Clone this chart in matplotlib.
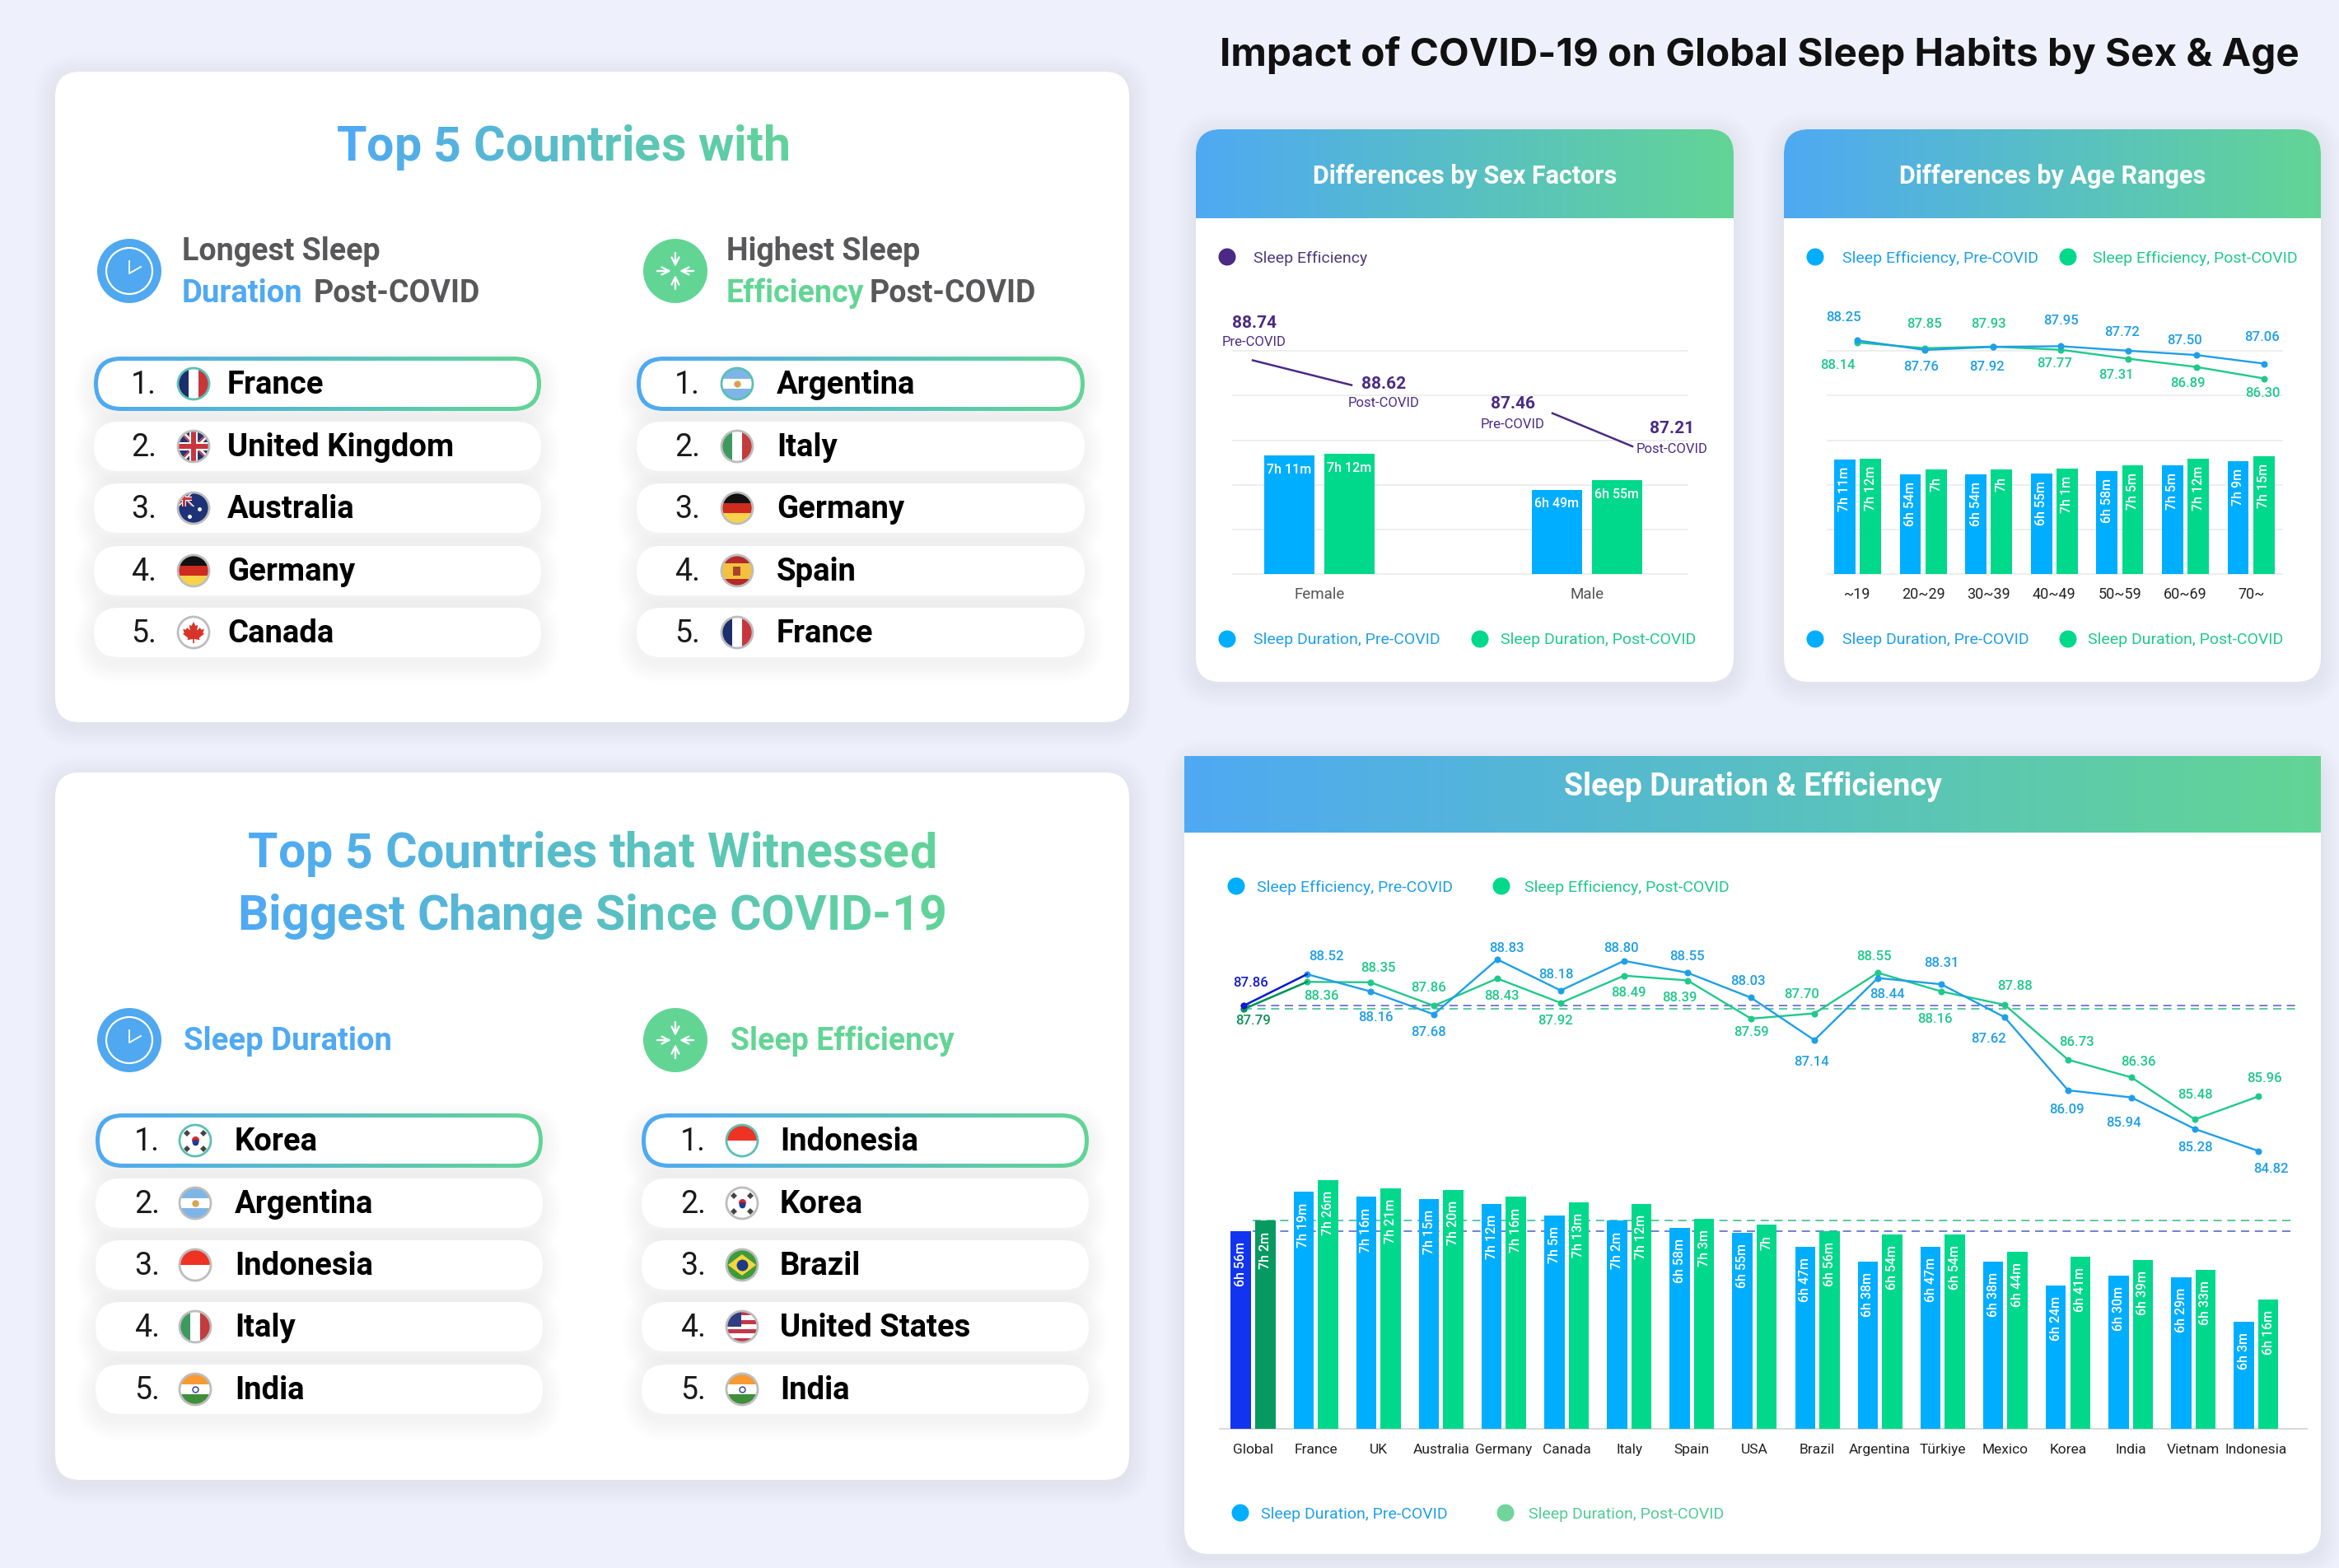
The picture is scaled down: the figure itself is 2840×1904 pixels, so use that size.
import matplotlib
matplotlib.use("Agg")
import matplotlib.pyplot as plt
import numpy as np
from matplotlib.colors import LinearSegmentedColormap, to_rgb
from matplotlib.patches import Circle, FancyBboxPatch, Polygon, Rectangle

# ---- data ----
countries = ["Global", "France", "UK", "Australia", "Germany", "Canada", "Italy", "Spain", "USA",
             "Brazil", "Argentina", "Türkiye", "Mexico", "Korea", "India", "Vietnam", "Indonesia"]
eff_pre = [87.86, 88.52, 88.16, 87.68, 88.83, 88.18, 88.80, 88.55, 88.03,
           87.14, 88.44, 88.31, 87.62, 86.09, 85.94, 85.28, 84.82]
eff_post = [87.79, 88.36, 88.35, 87.86, 88.43, 87.92, 88.49, 88.39, 87.59,
            87.70, 88.55, 88.16, 87.88, 86.73, 86.36, 85.48, 85.96]
dur_pre = ["6h 56m", "7h 19m", "7h 16m", "7h 15m", "7h 12m", "7h 5m", "7h 2m", "6h 58m", "6h 55m",
           "6h 47m", "6h 38m", "6h 47m", "6h 38m", "6h 24m", "6h 30m", "6h 29m", "6h 3m"]
dur_post = ["7h 2m", "7h 26m", "7h 21m", "7h 20m", "7h 16m", "7h 13m", "7h 12m", "7h 3m", "7h",
            "6h 56m", "6h 54m", "6h 54m", "6h 44m", "6h 41m", "6h 39m", "6h 33m", "6h 16m"]

sexes = ["Female", "Male"]
sex_dur_pre = ["7h 11m", "6h 49m"]
sex_dur_post = ["7h 12m", "6h 55m"]
female_eff = [88.74, 88.62]
male_eff = [87.46, 87.21]

ages = ["~19", "20~29", "30~39", "40~49", "50~59", "60~69", "70~"]
age_eff_pre = [88.25, 87.76, 87.92, 87.95, 87.72, 87.50, 87.06]
age_eff_post = [88.14, 87.85, 87.93, 87.77, 87.31, 86.89, 86.30]
age_dur_pre = ["7h 11m", "6h 54m", "6h 54m", "6h 55m", "6h 58m", "7h 5m", "7h 9m"]
age_dur_post = ["7h 12m", "7h", "7h", "7h 1m", "7h 5m", "7h 12m", "7h 15m"]

top_duration = ["France", "United Kingdom", "Australia", "Germany", "Canada"]
top_efficiency = ["Argentina", "Italy", "Germany", "Spain", "France"]
change_duration = ["Korea", "Argentina", "Indonesia", "Italy", "India"]
change_efficiency = ["Indonesia", "Korea", "Brazil", "United States", "India"]

# where the value labels sit in the picture (px)
pre_label_xy = [(1519, 1193), (1610, 1162), (1670, 1236), (1734, 1254), (1829, 1151), (1889, 1183),
                (1968, 1151), (2048, 1162), (2122, 1192), (2199, 1290), (2291, 1207), (2357, 1169),
                (2415, 1261), (2509, 1348), (2578, 1363), (2665, 1394), (2757, 1419)]
post_label_xy = [(1522, 1240), (1604, 1209), (1673, 1175), (1735, 1199), (1823, 1209), (1889, 1240),
                 (1977, 1206), (2039, 1211), (2127, 1254), (2188, 1207), (2275, 1162), (2349, 1237),
                 (2446, 1198), (2521, 1266), (2596, 1289), (2665, 1329), (2749, 1310)]
age_pre_label_xy = [(2238, 386), (2333, 445), (2412, 445), (2502, 389), (2577, 404), (2652, 413), (2746, 410)]
age_post_label_xy = [(2231, 443), (2336, 393), (2414, 393), (2495, 442), (2569, 456), (2656, 465), (2747, 478)]

W, H = 2840, 1904
BG = "#EEF1FC"
BLUE_BAR = "#00AEFF"
GREEN_BAR = "#00D88C"
BLUE_LINE = "#1E9FE8"
GREEN_LINE = "#1FC98A"
GRAD_A = "#4FA9F3"
GRAD_B = "#62D595"
PURPLE = "#4B2A85"
GREY_HEAD = "#58585A"
SANS = "Roboto"

plt.rcParams["font.family"] = [SANS, "DejaVu Sans"]
grad_cmap = LinearSegmentedColormap.from_list("grad", [GRAD_A, GRAD_B])

fig = plt.figure(figsize=(W / 100, H / 100), dpi=100, facecolor=BG)
rend = fig.canvas.get_renderer()


def px_axes(x0, y0, x1, y1, z=2):
    a = fig.add_axes([x0 / W, 1 - y1 / H, (x1 - x0) / W, (y1 - y0) / H], zorder=z)
    a.patch.set_alpha(0)
    return a


bg = px_axes(0, 0, W, H, z=0)
bg.set_xlim(0, W)
bg.set_ylim(H, 0)
bg.axis("off")
ov = px_axes(0, 0, W, H, z=5)
ov.set_xlim(0, W)
ov.set_ylim(H, 0)
ov.axis("off")


def to_min(s):
    h, _, m = s.partition("h")
    m = m.strip().rstrip("m")
    return int(h) * 60 + (int(m) if m else 0)


def rbox(x0, y0, x1, y1, r, **kw):
    p = FancyBboxPatch((x0, y0), x1 - x0, y1 - y0, boxstyle=f"round,pad=0,rounding_size={r}", **kw)
    bg.add_patch(p)
    return p


def shadow(x0, y0, x1, y1, r, spread, dy, alpha, color="#7C86B0", z=1):
    for k in range(spread, 0, -2):
        rbox(x0 - k, y0 - k + dy, x1 + k, y1 + k + dy, r + k, fc=color, ec="none", alpha=alpha, zorder=z)


def gradient(x0, y0, x1, y1, z, clip=None):
    im = bg.imshow(np.linspace(0, 1, 256)[None, :], cmap=grad_cmap, extent=(x0, x1, y1, y0),
                   aspect="auto", zorder=z, interpolation="bilinear")
    if clip is not None:
        im.set_clip_path(clip)


def card(x0, y0, x1, y1, r=30):
    shadow(x0, y0, x1, y1, r, 26, 5, 0.006)
    rbox(x0, y0, x1, y1, r, fc="white", ec="none", zorder=2)


def gradient_text(cx, base, s, size):
    # real text, one character at a time, so that it can run from blue to green
    def width(t):
        tx = ov.text(0, 0, t, fontsize=size, weight="bold")
        w = tx.get_window_extent(rend).width
        tx.remove()
        return w
    total = width(s)
    c0, c1 = np.array(to_rgb(GRAD_A)), np.array(to_rgb(GRAD_B))
    for i, ch in enumerate(s):
        if ch == " ":
            continue
        x = cx - total / 2 + width(s[:i + 1]) - width(ch)
        f = (x - cx + total / 2) / total
        ov.text(x, base, ch, fontsize=size, weight="bold", color=tuple(c0 + (c1 - c0) * f), va="baseline")


def stripes(cx, cy, r, colors, clip, vertical=False, ratios=None, z=6):
    ratios = ratios or [1] * len(colors)
    pos = -r
    total = sum(ratios)
    for c, q in zip(colors, ratios):
        size = 2 * r * q / total
        if vertical:
            p = Rectangle((cx + pos, cy - r), size, 2 * r, fc=c, ec="none", zorder=z)
        else:
            p = Rectangle((cx - r, cy + pos), 2 * r, size, fc=c, ec="none", zorder=z)
        bg.add_patch(p)
        p.set_clip_path(clip)
        pos += size


def clipped(p, clip):
    bg.add_patch(p)
    p.set_clip_path(clip)


def union_jack(cx, cy, r, clip, z):
    for w, c in ((r * 0.34, "white"), (r * 0.14, "#C8363C")):
        for sx in (1, -1):
            clipped(Polygon([(cx - r * sx, cy - r), (cx - r * sx + w, cy - r), (cx + r * sx + w, cy + r),
                             (cx + r * sx, cy + r)], fc=c, ec="none", zorder=z), clip)
    for w, c in ((r * 0.55, "white"), (r * 0.3, "#C8363C")):
        clipped(Rectangle((cx - w / 2, cy - r), w, 2 * r, fc=c, ec="none", zorder=z + 1), clip)
        clipped(Rectangle((cx - r, cy - w / 2), 2 * r, w, fc=c, ec="none", zorder=z + 1), clip)


# rough outline of the maple leaf, in flag radii
LEAF = np.array([(0, -0.62), (0.12, -0.38), (0.25, -0.44), (0.2, -0.12), (0.38, -0.28), (0.44, -0.16),
                 (0.62, -0.2), (0.54, 0.02), (0.62, 0.08), (0.32, 0.32), (0.36, 0.44), (0.04, 0.38),
                 (0.04, 0.62), (-0.04, 0.62), (-0.04, 0.38), (-0.36, 0.44), (-0.32, 0.32), (-0.62, 0.08),
                 (-0.54, 0.02), (-0.62, -0.2), (-0.44, -0.16), (-0.38, -0.28), (-0.2, -0.12),
                 (-0.25, -0.44), (-0.12, -0.38)])


def flag(name, cx, cy, ring, r=19):
    clip = Circle((cx, cy), r, transform=bg.transData)
    if name == "France":
        stripes(cx, cy, r, ["#1B2E6B", "white", "#C8363C"], clip, vertical=True)
    elif name == "United Kingdom":
        stripes(cx, cy, r, ["#27336E"], clip)
        union_jack(cx, cy, r, clip, 7)
    elif name == "Australia":
        stripes(cx, cy, r, ["#1E3278"], clip)
        union_jack(cx - r * 0.6, cy - r * 0.6, r * 0.5, clip, 7)
        bg.plot([cx + r * 0.35], [cy + r * 0.05], "o", ms=2.5, color="white", zorder=8)
        bg.plot([cx - r * 0.25], [cy + r * 0.55], "o", ms=2.5, color="white", zorder=8)
    elif name == "Germany":
        stripes(cx, cy, r, ["#111111", "#CF2B1E", "#F9D24B"], clip)
    elif name == "Canada":
        stripes(cx, cy, r, ["white"], clip)
        bg.add_patch(Polygon(LEAF * r * 1.1 + (cx, cy), fc="#D8352A", ec="none", zorder=8))
    elif name == "Argentina":
        stripes(cx, cy, r, ["#7FB5E6", "white", "#7FB5E6"], clip)
        bg.plot([cx], [cy], "o", ms=5, color="#D9A24E", zorder=8)
    elif name == "Italy":
        stripes(cx, cy, r, ["#3D9A5F", "white", "#C23B3D"], clip, vertical=True)
    elif name == "Spain":
        stripes(cx, cy, r, ["#B5292A", "#F4C13E", "#B5292A"], clip, ratios=[1, 2, 1])
        bg.add_patch(Rectangle((cx - 5, cy - 5), 9, 11, fc="#A8432B", ec="none", zorder=8))
    elif name == "Korea":
        stripes(cx, cy, r, ["white"], clip)
        bg.plot([cx], [cy - 1.5], "o", ms=6.5, color="#D8282F", mew=0, zorder=8)
        bg.plot([cx], [cy + 2], "o", ms=5.5, color="#1D3C8F", mew=0, zorder=8)
        for sx in (-1, 1):
            for sy in (-1, 1):
                bg.plot([cx + sx * r * 0.55], [cy + sy * r * 0.5], marker="D", ms=3.8, color="#444444", mew=0, zorder=8)
    elif name == "Indonesia":
        stripes(cx, cy, r, ["#EE3224", "white"], clip)
    elif name == "India":
        stripes(cx, cy, r, ["#F79A32", "white", "#3F8F3A"], clip)
        bg.plot([cx], [cy], "o", ms=5, mfc="white", mec="#273A8C", mew=1, zorder=8)
    elif name == "Brazil":
        stripes(cx, cy, r, ["#3E9B3A"], clip)
        clipped(Polygon([(cx - r * 0.9, cy), (cx, cy - r * 0.68), (cx + r * 0.9, cy), (cx, cy + r * 0.68)],
                        fc="#F4D73A", ec="none", zorder=7), clip)
        bg.plot([cx], [cy], "o", ms=10, color="#1E3A86", mew=0, zorder=8)
    elif name == "United States":
        stripes(cx, cy, r, ["#C4364A", "white"] * 3 + ["#C4364A"], clip)
        clipped(Rectangle((cx - r, cy - r), r * 0.95, r * 0.98, fc="#2F3E84", ec="none", zorder=7), clip)
    bg.add_patch(Circle((cx, cy), r, fc="none", ec=ring, lw=2, zorder=9))


def ranking(names, ys, x0, x1, num_x, flag_x, name_x):
    for i, (name, y) in enumerate(zip(names, ys)):
        shadow(x0, y - 30, x1, y + 30, 30, 24, 8, 0.0055, color="#555566", z=3)
        if i == 0:
            outer = rbox(x0, y - 33, x1, y + 33, 33, fc="none", ec="none", zorder=4)
            gradient(x0, y - 33, x1, y + 33, 4, clip=outer)
            rbox(x0 + 5, y - 28, x1 - 5, y + 28, 28, fc="white", ec="none", zorder=5)
        else:
            rbox(x0, y - 30, x1, y + 30, 30, fc="white", ec="none", zorder=5)
        ring = "#5CBFB5" if i == 0 else "#BDBDBD"
        flag(name, flag_x, y, ring)
        ov.text(num_x, y + 12, f"{i + 1}.", fontsize=27, color="#1A1A1A", va="baseline")
        ov.text(name_x, y + 12, name, fontsize=27.5, color="black", va="baseline", weight="bold")


def clock_icon(cx, cy):
    bg.add_patch(Circle((cx, cy), 39, fc="#4FA8F0", ec="none", zorder=3))
    bg.add_patch(Circle((cx, cy), 28, fc="none", ec="white", lw=1.6, zorder=4))
    bg.plot([cx, cx, cx + 14], [cy - 12, cy + 3, cy - 5], color="white", lw=1.3, zorder=4)


def arrows_icon(cx, cy):
    bg.add_patch(Circle((cx, cy), 39, fc="#62D595", ec="none", zorder=3))
    for dx, dy in ((0, -1), (0, 1), (-1, 0), (1, 0)):
        bg.annotate("", xy=(cx + dx * 5, cy + dy * 5), xytext=(cx + dx * 22, cy + dy * 22), zorder=4,
                    arrowprops=dict(arrowstyle="->", color="white", lw=1.7, shrinkA=0, shrinkB=0, mutation_scale=16))


def legend_item(dot_x, text_x, y, color, text, text_color=None):
    ov.add_patch(Circle((dot_x, y), 10.5, fc=color, ec="none"))
    ov.text(text_x, y + 1.5, text, fontsize=14, color=text_color or color, va="center")


# ---- left panels ----
card(67, 87, 1371, 877)
card(67, 938, 1371, 1797)

gradient_text(684, 195, "Top 5 Countries with", 42.6)
clock_icon(157, 329)
arrows_icon(820, 329)
ov.text(221, 316, "Longest Sleep", fontsize=27, weight="bold", color=GREY_HEAD)
ov.text(221, 367, "Duration", fontsize=27.5, weight="bold", color=GRAD_A)
ov.text(381, 367, "Post-COVID", fontsize=27, weight="bold", color=GREY_HEAD)
ov.text(882, 316, "Highest Sleep", fontsize=27, weight="bold", color=GREY_HEAD)
ov.text(882, 367, "Efficiency", fontsize=27, weight="bold", color=GRAD_B)
ov.text(1056, 367, "Post-COVID", fontsize=27, weight="bold", color=GREY_HEAD)

rows_a = [466, 542, 617, 693, 768]
ranking(top_duration, rows_a, 114, 657, 159, 235, 276)
ranking(top_efficiency, rows_a, 773, 1317, 819, 895, 943)

gradient_text(719, 1053, "Top 5 Countries that Witnessed", 42.5)
gradient_text(719, 1129, "Biggest Change Since COVID-19", 42.5)
clock_icon(157, 1263)
arrows_icon(820, 1263)
ov.text(223, 1275, "Sleep Duration", fontsize=27.5, weight="bold", color=GRAD_A)
ov.text(887, 1275, "Sleep Efficiency", fontsize=27, weight="bold", color=GRAD_B)

rows_b = [1385, 1461, 1536, 1611, 1687]
ranking(change_duration, rows_b, 116, 659, 163, 237, 285)
ranking(change_efficiency, rows_b, 779, 1322, 826, 901, 947)

# ---- title and chart cards ----
ov.text(2136, 80, "Impact of COVID-19 on Global Sleep Habits by Sex & Age", fontsize=34.3, weight="bold",
        family=["Inter", "DejaVu Sans"], color="#111111", ha="center", va="baseline")

for x0, x1, head in ((1452, 2105, "Differences by Sex Factors"), (2166, 2818, "Differences by Age Ranges")):
    card(x0, 157, x1, 828)
    clip_card = rbox(x0, 157, x1, 828, 30, fc="none", ec="none", zorder=3)
    gradient(x0, 157, x1, 265, 3, clip=clip_card)
    ov.text((x0 + x1) / 2, 214, head, fontsize=22, weight="bold", color="white", ha="center", va="center")

card(1438, 918, 2818, 1887)
gradient(1438, 918, 2818, 1011, 3)
ov.text(2128, 955, "Sleep Duration & Efficiency", fontsize=27, weight="bold", color="white", ha="center", va="center")

bg.set_xlim(0, W)
bg.set_ylim(H, 0)

# ---- sex chart ----
legend_item(1490, 1522, 312, PURPLE, "Sleep Efficiency", "#4A3A7A")
legend_item(1490, 1522, 776, BLUE_BAR, "Sleep Duration, Pre-COVID", BLUE_LINE)
legend_item(1797, 1822, 776, GREEN_BAR, "Sleep Duration, Post-COVID", GREEN_LINE)

ax = px_axes(1497, 426, 2048.5, 697.5)
ax.set_ylim(355, 355 + 271.5 / 1.9)
ax.set_xlim(-0.323, 1.375)
pre_min = [to_min(s) for s in sex_dur_pre]
post_min = [to_min(s) for s in sex_dur_post]
x = np.arange(len(sexes))
ax.bar(x - 0.1124, pre_min, 0.188, color=BLUE_BAR, zorder=3)
ax.bar(x + 0.1124, post_min, 0.188, color=GREEN_BAR, zorder=3)
for xs, vals, labs in ((x - 0.1124, pre_min, sex_dur_pre), (x + 0.1124, post_min, sex_dur_post)):
    for xx, v, s in zip(xs, vals, labs):
        ax.annotate(s, (xx, v), xytext=(0, -17), textcoords="offset pixels", ha="center", va="center",
                    fontsize=11.5, weight=500, color="white", zorder=4)
ax.set_yticks(np.linspace(*ax.get_ylim(), 6))
ax.set_yticklabels([])
ax.set_xticks(x, sexes, fontsize=13.5, color="#555555")
ax.tick_params(length=0, pad=11)
ax.grid(axis="y", color="#EEEEEE", lw=1.4, clip_on=False)
ax.set_axisbelow(True)
for sp in ax.spines.values():
    sp.set_visible(False)

for vals, box in ((female_eff, (1521, 437.5, 1641, 467.6)), (male_eff, (1885, 501.8, 1982, 542))):
    sl = px_axes(*box)
    sl.set_xlim(0, 1)
    sl.set_ylim(vals[1], vals[0])
    sl.plot([0, 1], vals, color=PURPLE, lw=1.8, clip_on=False)
    sl.axis("off")

for val, xy_v, xy_t, lab in ((female_eff[0], (1523, 392), (1523, 416), "Pre-COVID"),
                             (female_eff[1], (1680, 466), (1680, 490), "Post-COVID"),
                             (male_eff[0], (1837, 491), (1837, 515), "Pre-COVID"),
                             (male_eff[1], (2030, 521), (2030, 545), "Post-COVID")):
    ov.text(*xy_v, f"{val:.2f}", fontsize=15, weight="bold", color=PURPLE, ha="center", va="center")
    ov.text(*xy_t, lab, fontsize=12, color=PURPLE, ha="center", va="center")

# ---- age chart ----
legend_item(2204, 2237, 312, BLUE_BAR, "Sleep Efficiency, Pre-COVID", BLUE_LINE)
legend_item(2511, 2541, 312, GREEN_BAR, "Sleep Efficiency, Post-COVID", GREEN_LINE)
legend_item(2204, 2237, 776, BLUE_BAR, "Sleep Duration, Pre-COVID", BLUE_LINE)
legend_item(2511, 2535, 776, GREEN_BAR, "Sleep Duration, Post-COVID", GREEN_LINE)

ax = px_axes(2219, 426, 2770.6, 697.5)
ax.set_ylim(300, 300 + 271.5 / 1.063)
ax.set_xlim(-0.4585, 6.471)
pre_min = [to_min(s) for s in age_dur_pre]
post_min = [to_min(s) for s in age_dur_post]
x = np.arange(len(ages))
ax.bar(x - 0.196, pre_min, 0.322, color=BLUE_BAR, zorder=3)
ax.bar(x + 0.196, post_min, 0.322, color=GREEN_BAR, zorder=3)
for xs, vals, labs in ((x - 0.196, pre_min, age_dur_pre), (x + 0.196, post_min, age_dur_post)):
    for xx, v, s in zip(xs, vals, labs):
        ax.annotate(s, (xx, v), xytext=(0, -9), textcoords="offset pixels", ha="center", va="top", rotation=90,
                    fontsize=11.5, weight=500, color="white", zorder=4)
ax.set_yticks(np.linspace(*ax.get_ylim(), 6))
ax.set_yticklabels([])
ax.set_xticks(x, ages, fontsize=13, color="#222222")
ax.tick_params(length=0, pad=11)
ax.grid(axis="y", color="#EEEEEE", lw=1.4, clip_on=False)
ax.set_axisbelow(True)
for sp in ax.spines.values():
    sp.set_visible(False)

ax = px_axes(2219, 380, 2770.6, 470, z=3)
ax.set_xlim(-0.437, 6.263)
ax.set_ylim(87.77 - 45.3 / 23.7, 87.77 + 44.7 / 23.7)
ax.plot(x, age_eff_post, "-o", color=GREEN_LINE, lw=1.7, ms=4.8, clip_on=False)
ax.plot(x, age_eff_pre, "-o", color=BLUE_LINE, lw=1.7, ms=4.8, clip_on=False)
ax.axis("off")
for v, xy in zip(age_eff_pre, age_pre_label_xy):
    ov.text(*xy, f"{v:.2f}", fontsize=12, weight=500, color=BLUE_LINE, ha="center", va="center")
for v, xy in zip(age_eff_post, age_post_label_xy):
    ov.text(*xy, f"{v:.2f}", fontsize=12, weight=500, color=GREEN_LINE, ha="center", va="center")

# ---- main chart ----
legend_item(1501, 1526, 1076, BLUE_BAR, "Sleep Efficiency, Pre-COVID", BLUE_LINE)
legend_item(1823, 1851, 1076, GREEN_BAR, "Sleep Efficiency, Post-COVID", GREEN_LINE)
legend_item(1506, 1531, 1837, BLUE_BAR, "Sleep Duration, Pre-COVID", BLUE_LINE)
legend_item(1828, 1856, 1837, "#6FD59B", "Sleep Duration, Post-COVID", "#4FCB94")

ax = px_axes(1481, 1390, 2801, 1735)
ax.set_ylim(300, 300 + 345 / 2.07)
ax.set_xlim(-0.532, 16.81)
pre_min = [to_min(s) for s in dur_pre]
post_min = [to_min(s) for s in dur_post]
x = np.arange(len(countries))
ax.bar(x - 0.194, pre_min, 0.322, color=["#1234F0"] + [BLUE_BAR] * 16, zorder=3)
ax.bar(x + 0.194, post_min, 0.322, color=["#079A60"] + [GREEN_BAR] * 16, zorder=3)
ax.hlines(pre_min[0], 0, 16.63, color="#5A6ACF", lw=1.2, linestyles=(0, (6, 4)), zorder=2)
ax.hlines(post_min[0], 0, 16.63, color="#3FBF95", lw=1.2, linestyles=(0, (6, 4)), zorder=2)
for xs, vals, labs in ((x - 0.194, pre_min, dur_pre), (x + 0.194, post_min, dur_post)):
    for xx, v, s in zip(xs, vals, labs):
        ax.annotate(s, (xx, v), xytext=(0, -13), textcoords="offset pixels", ha="center", va="top", rotation=90,
                    fontsize=11.5, weight=500, color="white", zorder=4)
ax.set_xticks(x, countries, fontsize=12.5, color="#222222")
ax.set_yticks([])
ax.tick_params(length=0, pad=13)
for side in ("top", "left", "right"):
    ax.spines[side].set_visible(False)
ax.spines["bottom"].set_color("#D9D9D9")
ax.spines["bottom"].set_linewidth(1.4)

ax = px_axes(1481, 1130, 2801, 1420, z=3)
ax.set_xlim((1481 - 1510) / 77, (2801 - 1510) / 77)
ax.set_ylim(88.83 - 255 / 58, 88.83 + 35 / 58)
ax.hlines(eff_pre[0], 0, 16.58, color="#5A6ACF", lw=1.2, linestyles=(0, (6, 4)))
ax.hlines(eff_post[0], 0, 16.58, color="#3FBF95", lw=1.2, linestyles=(0, (6, 4)))
ax.plot(x, eff_post, "-o", color=GREEN_LINE, lw=1.7, ms=4.8, clip_on=False)
ax.plot(x, eff_pre, "-o", color=BLUE_LINE, lw=1.7, ms=4.8, clip_on=False)
ax.plot(x[:2], eff_post[:2], color="#0E8F5A", lw=1.7)
ax.plot(x[:2], eff_pre[:2], color="#1519C8", lw=1.7)
ax.plot(x[0], eff_post[0], "o", color="#0E8F5A", ms=4.8)
ax.plot(x[0], eff_pre[0], "o", color="#1519C8", ms=4.8)
ax.axis("off")
for i, (v, xy) in enumerate(zip(eff_pre, pre_label_xy)):
    ov.text(*xy, f"{v:.2f}", fontsize=12, weight=500, color="#1519C8" if i == 0 else BLUE_LINE, ha="center", va="center")
for i, (v, xy) in enumerate(zip(eff_post, post_label_xy)):
    ov.text(*xy, f"{v:.2f}", fontsize=12, weight=500, color="#0E8F5A" if i == 0 else GREEN_LINE, ha="center", va="center")

fig.savefig("out.png", dpi=100, facecolor=BG)
